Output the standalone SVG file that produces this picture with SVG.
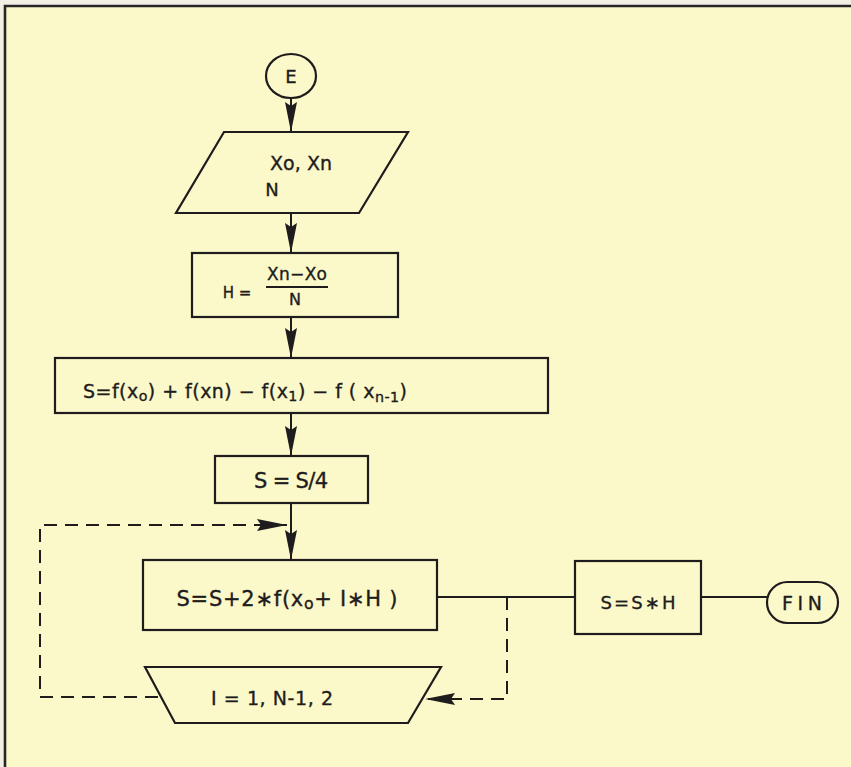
<svg xmlns="http://www.w3.org/2000/svg" width="851" height="767" viewBox="0 0 851 767">
<style>
  .shape{fill:none;stroke:#1e1c1c;stroke-width:2.2;stroke-linejoin:miter}
  .line{fill:none;stroke:#1e1c1c;stroke-width:2}
  .dash{fill:none;stroke:#1e1c1c;stroke-width:2;stroke-dasharray:13 8}
  .t{font-family:"DejaVu Sans","Liberation Sans",Arial,sans-serif;fill:#1e1c1c;stroke:#1e1c1c;stroke-width:0.35;text-anchor:middle}
  .sub{font-size:0.75em}
</style>
<defs>
  <marker id="arr" viewBox="0 0 30 12" refX="30" refY="6" markerWidth="30" markerHeight="12" markerUnits="userSpaceOnUse" orient="auto">
    <path d="M0,0 L30,6 L0,12 L4,6 z" fill="#1e1c1c"/>
  </marker>
</defs>
<rect x="0" y="0" width="851" height="767" fill="#fbf8ca"/>
<rect x="0" y="0" width="851" height="5" fill="#f2f0e4"/>
<rect x="0" y="0" width="4" height="767" fill="#f2f0e4"/>
<g id="frame">
  <path d="M5,767 L5,6 L851,6" fill="none" stroke="#2a2628" stroke-width="2.6"/>
</g>

<g id="connectors">
  <path class="line" d="M291,98 L291,132" marker-end="url(#arr)"/>
  <path class="line" d="M291,213 L291,253" marker-end="url(#arr)"/>
  <path class="line" d="M291,317 L291,358" marker-end="url(#arr)"/>
  <path class="line" d="M291,413 L291,456" marker-end="url(#arr)"/>
  <path class="line" d="M291,503 L291,560" marker-end="url(#arr)"/>
  <path class="dash" d="M158,697 L40,697 L40,525 L287,525" marker-end="url(#arr)"/>
  <path class="line" d="M437,597 L575,597"/>
  <path class="line" d="M701,597 L767,597"/>
  <path class="dash" d="M507,597 L507,699 L425,699" marker-end="url(#arr)"/>
</g>

<g id="start">
  <ellipse class="shape" cx="291" cy="76" rx="25" ry="22"/>
  <text class="t" x="291" y="83" font-size="18">E</text>
</g>

<g id="input">
  <polygon class="shape" points="224,132 408,132 359,213 176,213"/>
  <text class="t" x="301" y="170" font-size="19" textLength="62" lengthAdjust="spacing">Xo, Xn</text>
  <text class="t" x="272" y="196" font-size="18">N</text>
</g>

<g id="step-h">
  <rect class="shape" x="192" y="253" width="206" height="64"/>
  <text class="t" x="237" y="298" font-size="15">H =</text>
  <text class="t" x="297" y="280" font-size="17" textLength="60" lengthAdjust="spacing">Xn−Xo</text>
  <line class="line" x1="266" y1="287" x2="328" y2="287" stroke-width="1.8"/>
  <text class="t" x="295" y="305" font-size="16">N</text>
</g>

<g id="step-s">
  <rect class="shape" x="55" y="358" width="493" height="55"/>
  <text class="t" x="245" y="398" font-size="19" textLength="324" lengthAdjust="spacing">S=f(x<tspan class="sub" dy="3">o</tspan><tspan dy="-3">) + f(xn) − f(x</tspan><tspan class="sub" dy="3">1</tspan><tspan dy="-3">)  − f ( x</tspan><tspan class="sub" dy="4">n-1</tspan><tspan dy="-4">)</tspan></text>
</g>

<g id="step-s4">
  <rect class="shape" x="215" y="456" width="153" height="47"/>
  <text class="t" x="291" y="488" font-size="21" textLength="74" lengthAdjust="spacing">S = S/4</text>
</g>

<g id="loop-body">
  <rect class="shape" x="143" y="560" width="294" height="70"/>
  <text class="t" x="287" y="606" font-size="21" textLength="221" lengthAdjust="spacing">S=S+2∗f(x<tspan class="sub" dy="3">o</tspan><tspan dy="-3">+ I∗H )</tspan></text>
</g>

<g id="loop-control">
  <polygon class="shape" points="145,667 441,667 408,723 175,723"/>
  <text class="t" x="272" y="705" font-size="19" textLength="122" lengthAdjust="spacing">I = 1, N-1, 2</text>
</g>

<g id="step-sh">
  <rect class="shape" x="575" y="561" width="126" height="73"/>
  <text class="t" x="638" y="609" font-size="18" textLength="75" lengthAdjust="spacing">S=S∗H</text>
</g>

<g id="end">
  <rect class="shape" x="767" y="582" width="71" height="41" rx="20.5" ry="20.5"/>
  <text class="t" x="802" y="610" font-size="19" textLength="40" lengthAdjust="spacing">FIN</text>
</g>
</svg>
